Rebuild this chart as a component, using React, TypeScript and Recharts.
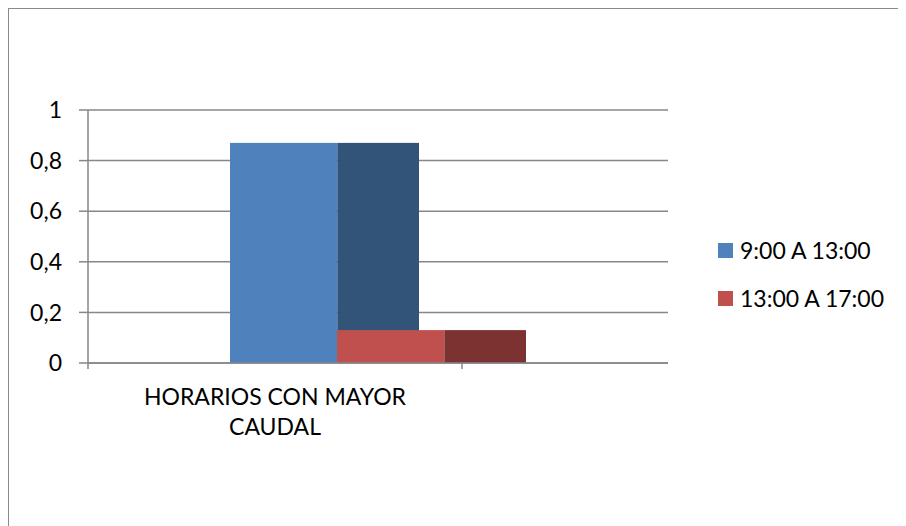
import React from "react";
import { BarChart, Bar, XAxis, YAxis, CartesianGrid } from "recharts";

const categories = ["HORARIOS CON MAYOR CAUDAL"];
const seriesNames = ["9:00 A 13:00", "13:00 A 17:00"];
const morningValues = [0.87];
const afternoonValues = [0.13];
const yTicks = [0, 0.2, 0.4, 0.6, 0.8, 1];
const frontColors = ["#4F81BD", "#C0504D"];
const sideColors = ["#325479", "#7C3230"];

const data = categories.map((c, i) => ({
  name: c,
  s0: morningValues[i],
  s1: afternoonValues[i],
}));

const FONT = "Lato, 'Open Sans', sans-serif";
const FS = 23;
const AXIS = "#878787";
const FRONT_RATIO = 0.568;

const make3D = (front: string, side: string) => (props: any) => {
  const { x, y, width, height } = props;
  if (!height || height <= 0) return <g />;
  const fw = width * FRONT_RATIO;
  return (
    <g>
      <rect x={x} y={y} width={fw} height={height} fill={front} />
      <rect x={x + fw} y={y} width={width - fw} height={height} fill={side} />
    </g>
  );
};

const CatTick = (props: any) => {
  const { x, y, payload } = props;
  const words = String(payload.value).split(" ");
  const line1 = words.slice(0, 3).join(" ");
  const line2 = words.slice(3).join(" ");
  const cx = x - 103;
  return (
    <g>
      <line x1={x + 84} y1={y} x2={x + 84} y2={y + 6} stroke={AXIS} strokeWidth={1.5} />
      <line x1={x - 290} y1={y} x2={x - 290} y2={y + 6} stroke={AXIS} strokeWidth={1.5} />
      <text x={cx} y={y + 42} textAnchor="middle" fontFamily={FONT} fontSize={FS} fill="#000">
        {line1}
      </text>
      <text x={cx} y={y + 72} textAnchor="middle" fontFamily={FONT} fontSize={FS} fill="#000">
        {line2}
      </text>
    </g>
  );
};

export default function App() {
  return (
    <div style={{ position: "relative", width: 898, height: 518, background: "#fff" }}>
      <div style={{ position: "absolute", left: -1, top: -1, width: 898, height: 2, background: "#8a8a8a" }} />
      <div style={{ position: "absolute", left: -1, top: -1, width: 2, height: 519, background: "#8a8a8a" }} />
      <BarChart
        width={898}
        height={518}
        data={data}
        margin={{ top: 102, right: 238, bottom: 103, left: 0 }}
        barSize={189}
        barGap={-82}
      >
        <CartesianGrid vertical={false} stroke={AXIS} strokeWidth={1.5} />
        <XAxis
          dataKey="name"
          height={60}
          axisLine={{ stroke: AXIS, strokeWidth: 1.5 }}
          tickLine={false}
          tickSize={0}
          tickMargin={0}
          tick={<CatTick />}
          interval={0}
        />
        <YAxis
          width={80}
          domain={[0, 1]}
          ticks={yTicks}
          interval={0}
          axisLine={{ stroke: AXIS, strokeWidth: 1.5 }}
          tickLine={{ stroke: AXIS, strokeWidth: 1.5 }}
          tickSize={9}
          tickMargin={17}
          tick={{ fontFamily: FONT, fontSize: FS, fill: "#000" }}
          tickFormatter={(v: number) => String(v).replace(".", ",")}
        />
        <Bar dataKey="s0" name={seriesNames[0]} isAnimationActive={false} shape={make3D(frontColors[0], sideColors[0])} />
        <Bar dataKey="s1" name={seriesNames[1]} isAnimationActive={false} shape={make3D(frontColors[1], sideColors[1])} />
      </BarChart>
      {seriesNames.map((n, i) => (
        <div
          key={n}
          style={{
            position: "absolute",
            left: 710,
            top: 227 + i * 48,
            height: 30,
            display: "flex",
            alignItems: "center",
            fontFamily: FONT,
            fontSize: FS,
            color: "#000",
            whiteSpace: "nowrap",
          }}
        >
          <span style={{ display: "inline-block", width: 15, height: 15, background: frontColors[i], marginRight: 7 }} />
          {n}
        </div>
      ))}
    </div>
  );
}
